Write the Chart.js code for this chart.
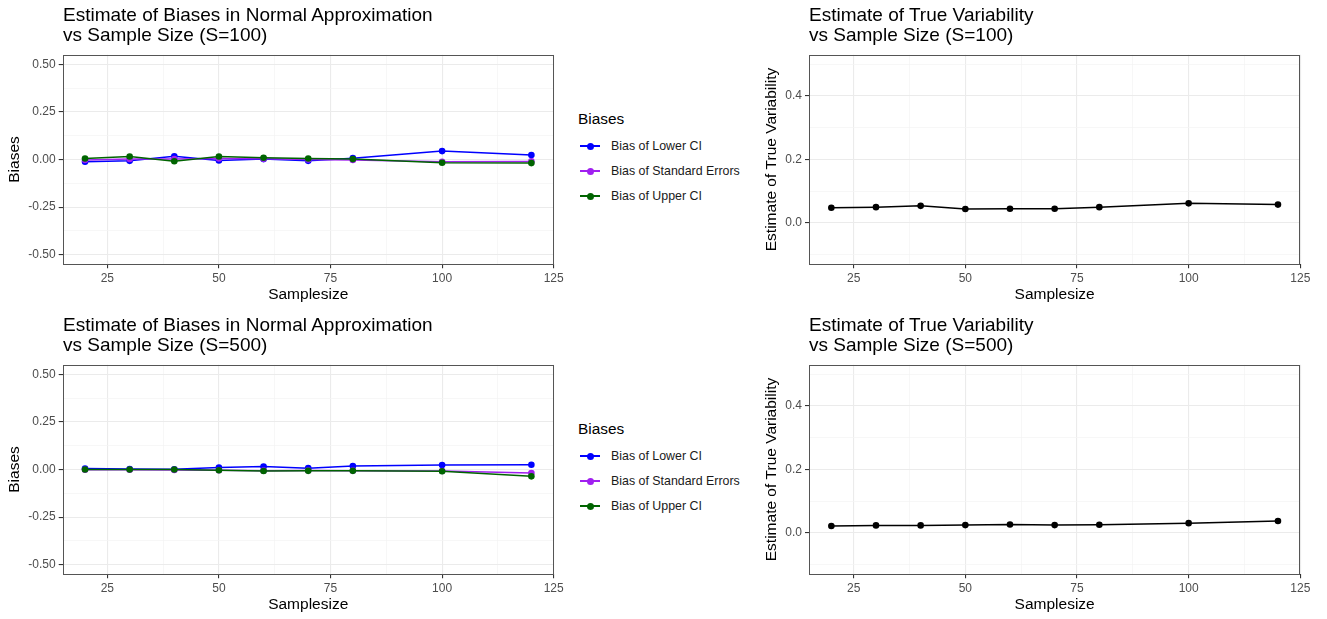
<!DOCTYPE html>
<html><head><meta charset="utf-8">
<script src="https://cdn.jsdelivr.net/npm/chart.js@4.4.0/dist/chart.umd.min.js"></script>
<style>
body{margin:0;background:#fff;font-family:"Liberation Sans",Arial,Helvetica,sans-serif;}
#wrap{position:relative;width:1327px;height:619px;overflow:hidden;background:#fff;}
canvas{position:absolute;}
.ttl{position:absolute;font-size:19px;line-height:20px;color:#000;white-space:nowrap;}
.lgt{position:absolute;font-size:15.4px;line-height:18px;color:#000;white-space:nowrap;}
.lgi{position:absolute;font-size:12.4px;line-height:14px;color:#1a1a1a;white-space:nowrap;}
.key{position:absolute;width:20px;height:0;}
.key .ln{position:absolute;left:0;top:-0.75px;width:20px;height:1.5px;}
.key .dt{position:absolute;left:6.5px;top:-3.5px;width:7px;height:7px;border-radius:50%;}
</style></head>
<body><div id="wrap">
<canvas id="c1" width="575" height="265" style="left:0;top:40px"></canvas>
<canvas id="c2" width="577" height="265" style="left:750px;top:40px"></canvas>
<canvas id="c3" width="575" height="265" style="left:0;top:350px"></canvas>
<canvas id="c4" width="577" height="265" style="left:750px;top:350px"></canvas>
</div>
<script>
// ---- data ----
const sampleSizes = [20, 30, 40, 50, 60, 70, 80, 100, 120];

const biasLowerS100 = [-0.012, -0.007, 0.017, -0.005, 0.002, -0.007, 0.007, 0.044, 0.023];
const biasSES100    = [-0.003, 0.003, 0.003, 0.005, 0.004, 0.000, -0.003, -0.012, -0.010];
const biasUpperS100 = [0.005, 0.016, -0.009, 0.016, 0.009, 0.005, 0.002, -0.017, -0.019];

const biasLowerS500 = [0.005, 0.003, 0.001, 0.010, 0.016, 0.007, 0.018, 0.024, 0.025];
const biasSES500    = [-0.001, -0.001, -0.002, -0.004, -0.006, -0.005, -0.006, -0.008, -0.019];
const biasUpperS500 = [0.000, 0.000, 0.000, -0.004, -0.008, -0.007, -0.007, -0.009, -0.036];

const trueVarS100 = [0.048, 0.050, 0.054, 0.044, 0.045, 0.045, 0.050, 0.062, 0.058];
const trueVarS500 = [0.022, 0.024, 0.024, 0.025, 0.027, 0.025, 0.026, 0.031, 0.038];

const seriesNames = ["Bias of Lower CI", "Bias of Standard Errors", "Bias of Upper CI"];
const seriesColors = ["#0000FF", "#A020F0", "#006400"];

const xTicks = [25, 50, 75, 100, 125];
const xMinor = [37.5, 62.5, 87.5, 112.5];
const biasTicks = [-0.5, -0.25, 0, 0.25, 0.5];
const biasTickLabels = ["-0.50", "-0.25", "0.00", "0.25", "0.50"];
const biasMinor = [-0.375, -0.125, 0.125, 0.375];
const varTicks = [0, 0.2, 0.4];
const varTickLabels = ["0.0", "0.2", "0.4"];
const varMinor = [-0.1, 0.1, 0.3, 0.5];

const titles = [
  ["Estimate of Biases in Normal Approximation", "vs Sample Size (S=100)"],
  ["Estimate of True Variability", "vs Sample Size (S=100)"],
  ["Estimate of Biases in Normal Approximation", "vs Sample Size (S=500)"],
  ["Estimate of True Variability", "vs Sample Size (S=500)"]
];

// ---- helpers ----
const FONT = '"Liberation Sans", Arial, Helvetica, sans-serif';
const borderPlugin = {
  id: 'panelBorder',
  afterDraw(chart) {
    const a = chart.chartArea, ctx = chart.ctx;
    ctx.save();
    ctx.strokeStyle = '#555555';
    ctx.lineWidth = 1;
    ctx.strokeRect(Math.round(a.left) + 0.5, Math.round(a.top) + 0.5,
                   Math.round(a.right - a.left) - 1, Math.round(a.bottom - a.top) - 1);
    ctx.restore();
  }
};

function scaleDef(min, max, major, minor, labels, fit, extra) {
  const labelMap = new Map(major.map((v, i) => [v, labels[i]]));
  return Object.assign({
    type: 'linear', min, max,
    afterBuildTicks: s => {
      s.ticks = major.concat(minor).sort((a, b) => a - b).map(v => ({ value: v }));
    },
    afterFit: fit,
    border: { display: false },
    grid: {
      color: c => labelMap.has(c.tick.value) ? '#EBEBEB' : '#F4F4F4',
      lineWidth: c => labelMap.has(c.tick.value) ? 1.1 : 0.7,
      tickColor: c => labelMap.has(c.tick.value) ? '#333333' : 'rgba(0,0,0,0)',
      tickLength: 4,
      drawTicks: true
    },
    ticks: {
      autoSkip: false, maxRotation: 0, padding: 3,
      color: '#4D4D4D', font: { family: FONT, size: 12 },
      callback: v => labelMap.has(v) ? labelMap.get(v) : ''
    }
  }, extra);
}

function makeChart(id, datasets, yMin, yMax, yMajor, yMinor, yLabels, yTitle, yWidth, yTitlePad, padRight) {
  new Chart(document.getElementById(id), {
    type: 'line',
    data: { labels: sampleSizes, datasets },
    options: {
      responsive: false, animation: false, devicePixelRatio: 1,
      events: [],
      layout: { padding: { top: 14.7, bottom: 0.7, left: 0, right: padRight } },
      plugins: { legend: { display: false }, tooltip: { enabled: false }, title: { display: false } },
      scales: {
        x: scaleDef(15, 125, xTicks, xMinor, xTicks.map(String), s => { s.height = 40; }, {
          position: 'bottom',
          title: { display: true, text: 'Samplesize', color: '#000', font: { family: FONT, size: 15.5 }, padding: { top: 0, bottom: 0 } }
        }),
        y: scaleDef(yMin, yMax, yMajor, yMinor, yLabels, s => { s.width = yWidth; }, {
          position: 'left',
          title: { display: true, text: yTitle, color: '#000', font: { family: FONT, size: 15.5 }, padding: { top: yTitlePad, bottom: 0 } }
        })
      }
    },
    plugins: [borderPlugin]
  });
}

function biasSets(lower, se, upper) {
  return [lower, se, upper].map((d, i) => ({
    label: seriesNames[i],
    data: d.map((v, j) => ({ x: sampleSizes[j], y: v })),
    borderColor: seriesColors[i], backgroundColor: seriesColors[i],
    pointBackgroundColor: seriesColors[i], pointBorderWidth: 0,
    pointRadius: 3.3, borderWidth: 1.5, tension: 0, order: 3 - i
  }));
}
function varSet(vals) {
  return [{
    label: 'Estimate of True Variability',
    data: vals.map((v, j) => ({ x: sampleSizes[j], y: v })),
    borderColor: '#000', backgroundColor: '#000', pointBackgroundColor: '#000',
    pointBorderWidth: 0, pointRadius: 3.3, borderWidth: 1.5, tension: 0
  }];
}

makeChart('c1', biasSets(biasLowerS100, biasSES100, biasUpperS100), -0.55, 0.55, biasTicks, biasMinor, biasTickLabels, 'Biases', 62.7, 5, 21.3);
makeChart('c3', biasSets(biasLowerS500, biasSES500, biasUpperS500), -0.55, 0.55, biasTicks, biasMinor, biasTickLabels, 'Biases', 62.7, 5, 21.3);
makeChart('c2', varSet(trueVarS100), -0.13, 0.53, varTicks, varMinor, varTickLabels, 'Estimate of True Variability', 59, 12.5, 26.7);
makeChart('c4', varSet(trueVarS500), -0.13, 0.53, varTicks, varMinor, varTickLabels, 'Estimate of True Variability', 59, 12.5, 26.7);

// ---- titles and legends (HTML text) ----
const wrap = document.getElementById('wrap');
const titlePos = [[63, 5], [809, 5], [63, 315], [809, 315]];
titles.forEach((t, i) => {
  const d = document.createElement('div');
  d.className = 'ttl';
  d.style.left = titlePos[i][0] + 'px';
  d.style.top = titlePos[i][1] + 'px';
  d.innerHTML = t.join('<br>');
  wrap.appendChild(d);
});
[0, 310].forEach(off => {
  const t = document.createElement('div');
  t.className = 'lgt';
  t.textContent = 'Biases';
  t.style.left = '578px';
  t.style.top = (110 + off) + 'px';
  wrap.appendChild(t);
  seriesNames.forEach((n, i) => {
    const cy = 146 + off + i * 25;
    const k = document.createElement('div');
    k.className = 'key';
    k.style.left = '580px'; k.style.top = cy + 'px';
    k.innerHTML = '<div class="ln" style="background:' + seriesColors[i] + '"></div><div class="dt" style="background:' + seriesColors[i] + '"></div>';
    wrap.appendChild(k);
    const l = document.createElement('div');
    l.className = 'lgi';
    l.textContent = n;
    l.style.left = '611px'; l.style.top = (cy - 7) + 'px';
    wrap.appendChild(l);
  });
});
</script>
</body></html>
